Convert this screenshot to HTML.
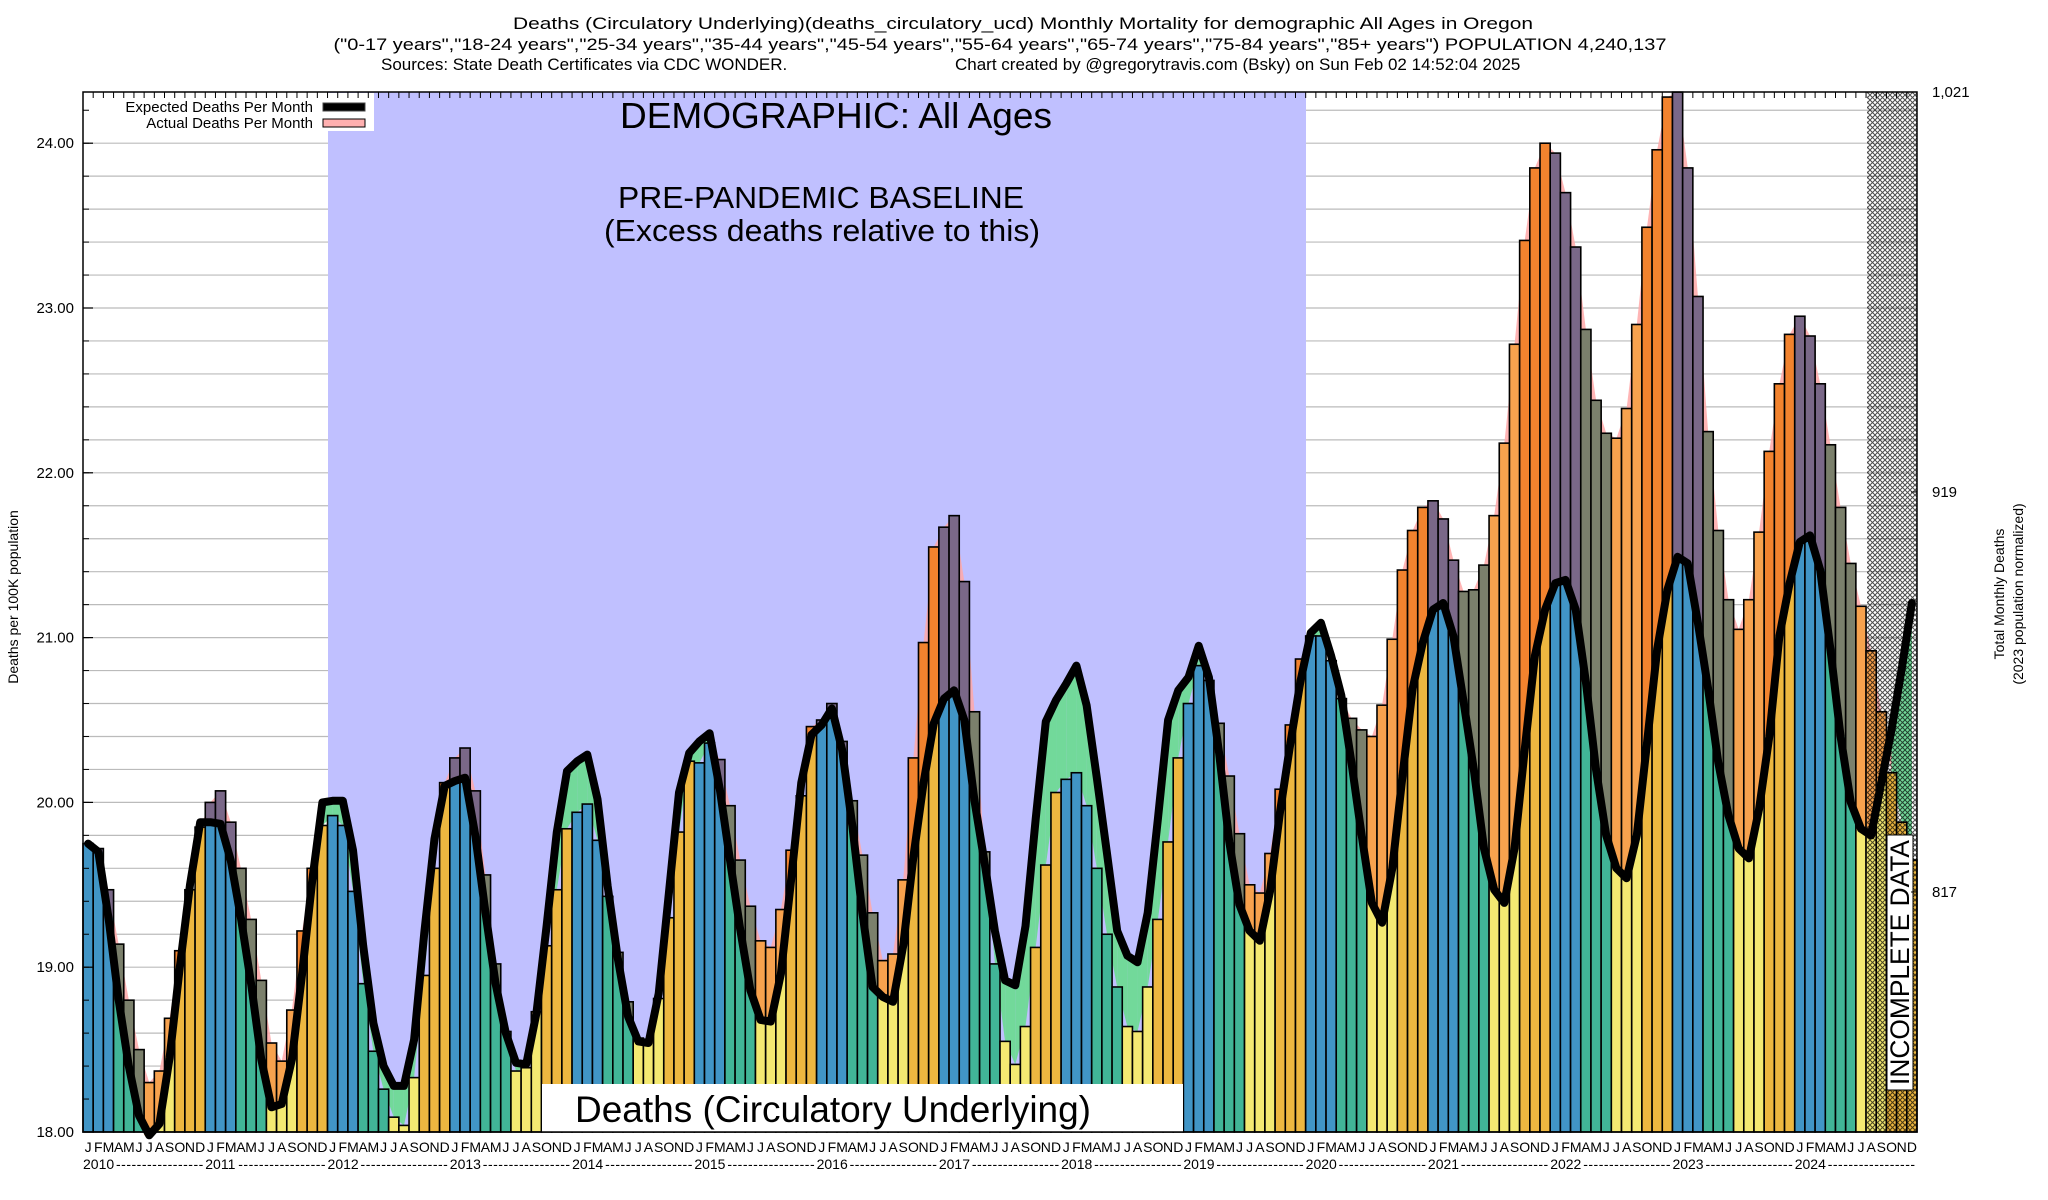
<!DOCTYPE html>
<html><head><meta charset="utf-8"><style>
html,body{margin:0;padding:0;background:#fff;}
svg{display:block;font-family:"Liberation Sans",Arial,sans-serif;}
</style></head><body>
<svg id="chart" width="2048" height="1200" viewBox="0 0 2048 1200" xmlns="http://www.w3.org/2000/svg">
<defs>
<pattern id="hatch" width="5" height="5" patternUnits="userSpaceOnUse">
<path d="M0,0 L5,5 M5,0 L0,5" stroke="#000" stroke-width="1" fill="none"/>
</pattern>
</defs>
<rect width="2048" height="1200" fill="#fff"/>
<g id="grid"></g>
<rect x="328" y="92" width="978" height="1040" fill="#c0c0ff"/>
<g id="fills"></g>
<g id="bars"></g>
<path id="expLine" fill="none" stroke="#000" stroke-width="8" stroke-linejoin="round" stroke-linecap="round"/>
<rect x="1867" y="92" width="50" height="1040" fill="url(#hatch)" opacity="0.7"/>
<g>
<rect x="1887" y="835" width="26" height="255" fill="#fff" stroke="#000" stroke-width="1"/>
<text x="0" y="0" transform="translate(1909,1085) rotate(-90)" font-size="27" textLength="245" lengthAdjust="spacingAndGlyphs">INCOMPLETE DATA</text>
</g>
<g>
<rect x="542" y="1084" width="641" height="48" fill="#fff"/>
<text x="833" y="1122" font-size="37" text-anchor="middle" textLength="516" lengthAdjust="spacingAndGlyphs">Deaths (Circulatory Underlying)</text>
</g>
<text x="836" y="128" font-size="36" text-anchor="middle" textLength="432" lengthAdjust="spacingAndGlyphs">DEMOGRAPHIC: All Ages</text>
<text x="821" y="208" font-size="31" text-anchor="middle" textLength="406" lengthAdjust="spacingAndGlyphs">PRE-PANDEMIC BASELINE</text>
<text x="822" y="241" font-size="31" text-anchor="middle" textLength="436" lengthAdjust="spacingAndGlyphs">(Excess deaths relative to this)</text>
<g>
<rect x="84" y="93" width="290" height="38" fill="#fff"/>
<text x="313" y="112" font-size="15" text-anchor="end">Expected Deaths Per Month</text>
<rect x="323" y="103" width="42" height="8" fill="#000" stroke="#444" stroke-width="1"/>
<text x="313" y="128" font-size="15" text-anchor="end">Actual Deaths Per Month</text>
<rect x="323" y="119" width="42" height="8" fill="#ffb0b0" stroke="#000" stroke-width="1"/>
</g>
<g id="axes"></g>
<rect x="83" y="92" width="1834" height="1040" fill="none" stroke="#000" stroke-width="1.5"/>
<g>
<text x="1023" y="29" font-size="17" text-anchor="middle" textLength="1020" lengthAdjust="spacingAndGlyphs">Deaths (Circulatory Underlying)(deaths_circulatory_ucd) Monthly Mortality for demographic All Ages in Oregon</text>
<text x="1000" y="50" font-size="17" text-anchor="middle" textLength="1333" lengthAdjust="spacingAndGlyphs">("0-17 years","18-24 years","25-34 years","35-44 years","45-54 years","55-64 years","65-74 years","75-84 years","85+ years") POPULATION 4,240,137</text>
<text x="381" y="70" font-size="17">Sources: State Death Certificates via CDC WONDER.</text>
<text x="955" y="70" font-size="17">Chart created by @gregorytravis.com (Bsky) on Sun Feb 02 14:52:04 2025</text>
</g>
<text transform="translate(18,597) rotate(-90)" font-size="14" text-anchor="middle">Deaths per 100K population</text>
<text transform="translate(2004,594) rotate(-90)" font-size="14" text-anchor="middle">Total Monthly Deaths</text>
<text transform="translate(2023,594) rotate(-90)" font-size="14" text-anchor="middle">(2023 population normalized)</text>
</svg>
<script>
const actual = [
19.75,19.72,19.47,19.14,18.80,18.50,18.30,18.37,18.69,19.10,19.47,19.85,
20.00,20.07,19.88,19.60,19.29,18.92,18.54,18.43,18.74,19.22,19.60,19.86,
19.92,19.86,19.46,18.90,18.49,18.26,18.09,18.04,18.33,18.95,19.60,20.12,
20.27,20.33,20.07,19.56,19.02,18.61,18.37,18.39,18.73,19.13,19.47,19.84,
19.94,19.99,19.77,19.43,19.09,18.79,18.57,18.56,18.81,19.30,19.82,20.25,
20.24,20.36,20.26,19.98,19.65,19.37,19.16,19.12,19.35,19.71,20.04,20.46,
20.50,20.60,20.37,20.01,19.68,19.33,19.04,19.08,19.53,20.27,20.97,21.55,
21.67,21.74,21.34,20.55,19.70,19.02,18.55,18.41,18.64,19.12,19.62,20.06,
20.14,20.18,19.98,19.60,19.20,18.88,18.64,18.61,18.88,19.29,19.76,20.27,
20.60,20.83,20.74,20.48,20.16,19.81,19.50,19.45,19.69,20.08,20.47,20.87,
21.01,21.01,20.86,20.63,20.51,20.44,20.40,20.59,20.99,21.41,21.65,21.79,
21.83,21.72,21.47,21.28,21.29,21.44,21.74,22.18,22.78,23.41,23.85,24.00,
23.94,23.70,23.37,22.87,22.44,22.24,22.21,22.39,22.90,23.49,23.96,24.28,
24.31,23.85,23.07,22.25,21.65,21.23,21.05,21.23,21.64,22.13,22.54,22.84,
22.95,22.83,22.54,22.17,21.79,21.45,21.19,20.92,20.55,20.18,19.88,19.65];
const expected = [
19.75,19.70,19.30,18.80,18.40,18.10,17.98,18.05,18.45,19.00,19.50,19.88,
19.88,19.87,19.65,19.30,18.90,18.44,18.15,18.17,18.44,18.96,19.53,20.00,
20.01,20.01,19.71,19.13,18.66,18.40,18.28,18.28,18.56,19.21,19.78,20.10,
20.13,20.15,19.80,19.33,18.90,18.60,18.42,18.41,18.72,19.25,19.82,20.19,
20.25,20.29,20.02,19.49,19.05,18.70,18.55,18.54,18.84,19.45,20.06,20.30,
20.37,20.42,20.08,19.65,19.23,18.86,18.68,18.67,18.96,19.53,20.12,20.41,
20.47,20.57,20.32,19.86,19.33,18.88,18.82,18.79,19.13,19.67,20.12,20.48,
20.63,20.68,20.50,20.01,19.63,19.22,18.92,18.89,19.25,19.90,20.49,20.62,
20.72,20.83,20.59,20.15,19.69,19.22,19.07,19.03,19.33,19.90,20.50,20.68,
20.76,20.95,20.76,20.30,19.76,19.38,19.22,19.16,19.46,19.95,20.36,20.74,
21.03,21.09,20.89,20.65,20.24,19.80,19.39,19.27,19.60,20.16,20.69,20.97,
21.17,21.21,21.01,20.61,20.20,19.72,19.47,19.39,19.72,20.32,20.89,21.17,
21.33,21.35,21.17,20.73,20.20,19.80,19.60,19.54,19.80,20.36,20.93,21.29,
21.49,21.45,21.09,20.69,20.24,19.92,19.72,19.66,19.96,20.40,21.01,21.33,
21.58,21.62,21.41,20.93,20.40,20.00,19.84,19.80,20.12,20.44,20.81,21.21];
const years = ["2010","2011","2012","2013","2014","2015","2016","2017","2018","2019","2020","2021","2022","2023","2024"];
const monthLetters = ["J","F","M","A","M","J","J","A","S","O","N","D"];
const yTicks = [18,19,20,21,22,23,24];
const rightTicks = ["1,021","919","817"];
const rightTickValues = [1021,919,817];

const NS = "http://www.w3.org/2000/svg";
const L = 83, R = 1917, T = 92, B = 1132, YMIN = 18, PXU = 164.8;
const N = actual.length;
const step = (R - L) / N;
function X(i){ return L + i*step; }
function Y(v){ return B - (v - YMIN)*PXU; }
function RY(d){ return T + (1021 - d) * (400/102); }
function mk(tag, attrs, parent){ const e=document.createElementNS(NS,tag); for(const k in attrs) e.setAttribute(k,attrs[k]); parent.appendChild(e); return e; }

const grid = document.getElementById('grid');
for (let v = 18.2; v < 24.35; v += 0.2) {
  const y = Y(v);
  const ln = mk('line',{x1:L,x2:R,y1:y,y2:y,stroke:'#bbb','stroke-width':1.2},grid);
  
  
}

const fills = document.getElementById('fills');
function cx(i){ return X(i)+step/2; }
for (let i=0;i<N-1;i++){
  const d = (actual[i]-expected[i]) + (actual[i+1]-expected[i+1]);
  const p = mk('polygon',{points:`${cx(i)},${Y(actual[i])} ${cx(i+1)},${Y(actual[i+1])} ${cx(i+1)},${Y(expected[i+1])} ${cx(i)},${Y(expected[i])}`, fill: d>0 ? '#ffa8a8' : '#72d99a', opacity: d>0 ? 0.85 : 1},fills);
  
  
}

const base = ['#4195c6','#41b597','#f4e972','#edb740'];
const excess = ['#7a6888','#7b806c','#f7a24e','#f2832e'];
const bars = document.getElementById('bars');
for (let i=0;i<N;i++){
  const q = Math.floor((i%12)/3);
  const a = actual[i], e = expected[i];
  const lo = Math.min(a,e);
  const g = mk('g',{},bars);
  
  
  mk('rect',{x:X(i),y:Y(lo),width:step,height:B-Y(lo),fill:base[q]},g);
  if (a>e) mk('rect',{x:X(i),y:Y(a),width:step,height:Y(e)-Y(a),fill:excess[q]},g);
  mk('rect',{x:X(i),y:Y(a),width:step,height:B-Y(a),fill:'none',stroke:'#000','stroke-width':1.6},g);
}

let d = '';
for (let i=0;i<N;i++){ d += (i? ' L':'M') + cx(i).toFixed(1)+','+Y(expected[i]).toFixed(1); }
document.getElementById('expLine').setAttribute('d', d);

const axes = document.getElementById('axes');
for (let v = 18.2; v < 24.35; v += 0.2){
  mk('line',{x1:L,x2:L+6,y1:Y(v),y2:Y(v),stroke:'#000','stroke-width':1},axes);
}
yTicks.forEach(v=>{
  mk('line',{x1:L,x2:L+10,y1:Y(v),y2:Y(v),stroke:'#000','stroke-width':1.2},axes);
  const t = mk('text',{x:L-9,y:Y(v)+5,'font-size':15,'text-anchor':'end'},axes);
  t.textContent = v.toFixed(2);
  
  
});
rightTicks.forEach((lab,k)=>{
  const y = RY(rightTickValues[k]);
  mk('line',{x1:R-6,x2:R,y1:y,y2:y,stroke:'#000','stroke-width':1},axes);
  const t = mk('text',{x:1932,y:y+5,'font-size':15},axes);
  t.textContent = lab;
  
  
});
for (let i=0;i<=N;i++){
  mk('line',{x1:X(i),x2:X(i),y1:T,y2:T+6,stroke:'#000','stroke-width':1},axes);
}
for (let i=0;i<N;i++){
  const t = mk('text',{x:cx(i),y:1152,'font-size':14,'text-anchor':'middle'},axes);
  t.textContent = monthLetters[i%12];
  
  
}
years.forEach((yr,k)=>{
  const x0 = X(k*12);
  const t = mk('text',{x:x0,y:1169,'font-size':14},axes);
  t.textContent = yr;
  
  
  const x1 = x0+33, x2 = X(k*12+12)-2;
  const dsh = mk('text',{x:x1,y:1169,'font-size':14,textLength:(x2-x1).toFixed(1),lengthAdjust:'spacing'},axes);
  dsh.textContent = '-----------------';
  
  
});
</script>
</body></html>
